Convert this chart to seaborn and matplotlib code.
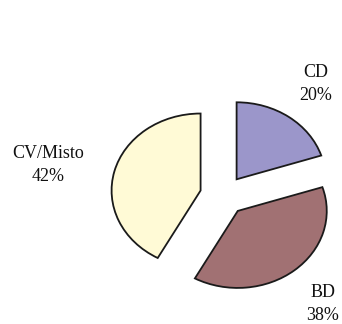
import matplotlib
matplotlib.use("Agg")
import matplotlib.pyplot as plt
import seaborn as sns

# Shares by category (percent)
categories = ["CD", "BD", "CV/Misto"]
shares = [20, 38, 42]
colors = ["#9B96CA", "#A17173", "#FFFAD6"]
explode = [0.26, 0.26, 0.26]

sns.set_theme(style="white")
plt.rcParams["font.family"] = ["Liberation Serif", "DejaVu Serif"]

W, H = 342, 324
fig = plt.figure(figsize=(W / 100, H / 100), dpi=100)
ax = fig.add_axes([0, 0, 1, 1])

wedges, _ = ax.pie(
    shares,
    colors=colors,
    explode=explode,
    startangle=90,
    counterclock=False,
    wedgeprops=dict(edgecolor="#1a1a1a", linewidth=1.3),
)

# Pie is drawn slightly wider than tall
rx, ry = 89.0, 77.0      # pixels per data unit
cx, cy = 223.0, 195.5    # pie centre in pixels (from top-left)
ax.set_aspect("auto")
ax.set_xlim(-cx / rx, (W - cx) / rx)
ax.set_ylim(-(H - cy) / ry, cy / ry)
ax.axis("off")

def px(x, y):
    return ((x - cx) / rx, (cy - y) / ry)

label_pos = {"CD": (316, 84), "BD": (323, 304), "CV/Misto": (48, 165)}
for name, val in zip(categories, shares):
    x, y = px(*label_pos[name])
    ax.text(x, y, f"{name}\n{val}%", ha="center", va="center",
            multialignment="center", fontsize=13, linespacing=1.45,
            color="#111111")

fig.savefig("out.png", dpi=100, facecolor="white")
